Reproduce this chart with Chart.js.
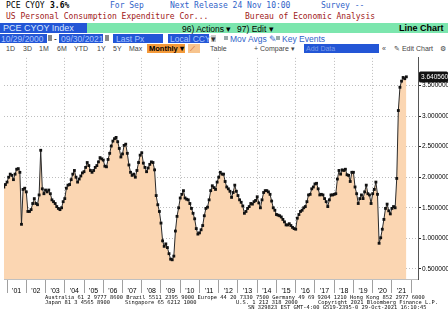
<!DOCTYPE html>
<html>
<head>
<meta charset="utf-8">
<script src="https://cdn.jsdelivr.net/npm/chart.js@4.4.0/dist/chart.umd.min.js"></script>
<style>
  html, body { margin: 0; padding: 0; background: #fff; }
  body { width: 448px; height: 322px; position: relative; overflow: hidden; }
  .t { position: absolute; white-space: pre; line-height: 1; }
  .mono { font-family: "DejaVu Sans Mono", monospace; font-size: 8px; }
  .ui { font-family: "Liberation Sans Narrow", "Liberation Sans", Arial, sans-serif; font-size: 8.5px; }
  .blue { color: #2f62c8; }
  .red { color: #a01818; }
  .box { position: absolute; }
  .foot { font-family: "DejaVu Sans Mono", monospace; font-size: 5.4px; color: #111; }
  #chart { position: absolute; left: 0; top: 53px; }
</style>
</head>
<body>
  <!-- security line -->
  <div class="t mono" style="left:6px;top:2px;color:#000">PCE CYOY</div>
  <div class="t mono" style="left:50px;top:2px;color:#000;font-weight:bold">3.6%</div>
  <div class="t mono blue" style="left:110px;top:2px">For Sep</div>
  <div class="t mono blue" style="left:170px;top:2px">Next Release 24 Nov 10:00</div>
  <div class="t mono blue" style="left:321px;top:2px">Survey --</div>
  <div class="t mono red" style="left:6px;top:13px">US Personal Consumption Expenditure Cor...</div>
  <div class="t mono red" style="left:245px;top:13px">Bureau of Economic Analysis</div>

  <!-- ticker / menu bar -->
  <div class="box" style="left:0;top:23px;width:87px;height:10px;background:#2356d6"></div>
  <div class="box" style="left:87px;top:23px;width:361px;height:10px;background:#7ce6ae"></div>
  <div class="t ui" style="left:3px;top:24px;font-size:9px;color:#d8e6ff">PCE CYOY Index</div>
  <div class="t ui" style="left:182px;top:24.5px;color:#000">96) Actions ▾</div>
  <div class="t ui" style="left:237px;top:24.5px;color:#000">97) Edit ▾</div>
  <div class="t ui" style="left:399px;top:24px;font-size:9px;color:#000;font-weight:bold">Line Chart</div>

  <!-- date range row -->
  <div class="box" style="left:0;top:34px;width:47px;height:9px;background:#2356d6"></div>
  <div class="box" style="left:59px;top:34px;width:44px;height:9px;background:#2356d6"></div>
  <div class="box" style="left:113px;top:34px;width:50px;height:9px;background:#2356d6"></div>
  <div class="box" style="left:168px;top:34px;width:41px;height:9px;background:#2356d6"></div>
  <div class="box" style="left:48px;top:35px;width:4px;height:6px;background:#888"></div>
  <div class="box" style="left:105px;top:35px;width:4px;height:6px;background:#888"></div>
  <div class="box" style="left:211px;top:35px;width:5px;height:7px;background:#ccc"></div>
  <div class="box" style="left:224px;top:36px;width:4px;height:4px;background:#9aa"></div>
  <div class="box" style="left:276px;top:36px;width:4px;height:4px;background:#9aa"></div>
  <div class="t ui" style="left:1px;top:34.5px;color:#a9c4ff">10/29/2000</div>
  <div class="t ui" style="left:54px;top:34.5px;color:#000">-</div>
  <div class="t ui" style="left:61px;top:34.5px;color:#a9c4ff">09/30/2021</div>
  <div class="t ui" style="left:116px;top:34.5px;color:#a9c4ff">Last Px</div>
  <div class="t ui" style="left:170px;top:34.5px;color:#a9c4ff">Local CCY</div>
  <div class="t ui" style="left:211px;top:34.5px;color:#333">▾</div>
  <div class="t ui" style="left:230px;top:34.5px;color:#2f62c8">Mov Avgs ✎</div>
  <div class="t ui" style="left:282px;top:34.5px;color:#2f62c8">Key Events</div>

  <!-- toolbar row -->
  <div class="box" style="left:147px;top:44px;width:38px;height:9px;background:#f39a3a"></div>
  <div class="box" style="left:188px;top:44px;width:12px;height:9px;background:#f7c48e"></div>
  <div class="box" style="left:304px;top:44px;width:75px;height:9px;background:#2356d6"></div>
  <div class="t ui" style="left:6px;top:45px;font-size:7px;color:#444">1D</div>
  <div class="t ui" style="left:23px;top:45px;font-size:7px;color:#444">3D</div>
  <div class="t ui" style="left:39px;top:45px;font-size:7px;color:#444">1M</div>
  <div class="t ui" style="left:57px;top:45px;font-size:7px;color:#444">6M</div>
  <div class="t ui" style="left:74px;top:45px;font-size:7px;color:#444">YTD</div>
  <div class="t ui" style="left:97px;top:45px;font-size:7px;color:#444">1Y</div>
  <div class="t ui" style="left:113px;top:45px;font-size:7px;color:#444">5Y</div>
  <div class="t ui" style="left:129px;top:45px;font-size:7px;color:#444">Max</div>
  <div class="t ui" style="left:149px;top:45px;font-size:7.5px;color:#000;font-weight:bold">Monthly ▾</div>
  <div class="t ui" style="left:190px;top:45px;font-size:7px;color:#c04010">⟋</div>
  <div class="t ui" style="left:210px;top:45px;font-size:7px;color:#444">Table</div>
  <div class="t ui" style="left:254px;top:45px;font-size:7px;color:#444">+ Compare ▾</div>
  <div class="t ui" style="left:306px;top:45px;font-size:7px;color:#7f9fe8">Add Data</div>
  <div class="t ui" style="left:382px;top:45px;font-size:7px;color:#444">«</div>
  <div class="t ui" style="left:394px;top:45px;font-size:7px;color:#444">✎ Edit Chart</div>
  <div class="t ui" style="left:440px;top:45px;font-size:7px;color:#444">⚙</div>

  <canvas id="chart" width="448" height="243"></canvas>

  <div class="t foot" style="left:45px;top:295px">Australia 61 2 9777 8600 Brazil 5511 2395 9000 Europe 44 20 7330 7500 Germany 49 69 9204 1210 Hong Kong 852 2977 6000</div>
  <div class="t foot" style="left:45px;top:300px">Japan 81 3 4565 8900</div>
  <div class="t foot" style="left:125px;top:300px">Singapore 65 6212 1000</div>
  <div class="t foot" style="left:236px;top:300px">U.S. 1 212 318 2000</div>
  <div class="t foot" style="left:318px;top:300px">Copyright 2021 Bloomberg Finance L.P.</div>
  <div class="t foot" style="left:248px;top:305px">SN 329823 EST GMT-4:00 G519-2395-0 29-Oct-2021 16:10:45</div>

<script>
// Core PCE, year-over-year %, monthly (month-end), Oct 2000 .. Sep 2021
const firstYear = 2000;
const firstMonth = 10;
const pceCoreYoY = [
  // 2000 (Oct-Dec)
  1.84, 1.88, 1.92,
  // 2001
  2.00, 2.05, 2.03, 1.96, 2.05, 2.13, 2.14, 2.08, 1.23, 1.80, 1.82, 1.76,
  // 2002
  1.44, 1.44, 1.47, 1.57, 1.65, 1.57, 1.55, 1.71, 2.44, 1.81, 1.73, 1.79,
  // 2003
  1.76, 1.79, 1.73, 1.63, 1.60, 1.57, 1.52, 1.49, 1.47, 1.50, 1.60, 1.65,
  // 2004
  1.82, 1.87, 1.88, 1.96, 2.05, 2.11, 2.00, 1.92, 1.97, 2.02, 2.07, 2.09,
  // 2005
  2.16, 2.24, 2.19, 2.11, 2.08, 2.11, 2.16, 2.19, 2.25, 2.32, 2.30, 2.28,
  // 2006
  2.18, 2.17, 2.29, 2.39, 2.51, 2.59, 2.63, 2.65, 2.58, 2.47, 2.33, 2.38,
  // 2007
  2.52, 2.54, 2.39, 2.20, 2.08, 2.03, 2.05, 2.00, 2.11, 2.24, 2.36, 2.40,
  // 2008
  2.23, 2.16, 2.09, 2.15, 2.21, 2.25, 2.24, 2.12, 1.70, 1.55, 1.44, 1.25,
  // 2009
  0.96, 0.87, 0.91, 0.85, 0.75, 0.66, 0.65, 0.71, 1.12, 1.36, 1.50, 1.66,
  // 2010
  1.72, 1.78, 1.66, 1.64, 1.63, 1.57, 1.49, 1.41, 1.32, 1.16, 1.07, 1.09,
  // 2011
  1.14, 1.21, 1.37, 1.49, 1.51, 1.63, 1.78, 1.86, 1.83, 1.80, 1.92, 2.00,
  // 2012
  2.08, 2.05, 2.05, 1.93, 1.84, 1.81, 1.77, 1.67, 1.75, 1.87, 1.77, 1.70,
  // 2013
  1.63, 1.59, 1.53, 1.41, 1.44, 1.49, 1.52, 1.57, 1.56, 1.60, 1.62, 1.68,
  // 2014
  1.58, 1.50, 1.63, 1.75, 1.78, 1.78, 1.76, 1.72, 1.61, 1.50, 1.46, 1.39,
  // 2015
  1.38, 1.37, 1.35, 1.31, 1.27, 1.22, 1.22, 1.24, 1.21, 1.18, 1.16, 1.15,
  // 2016
  1.33, 1.39, 1.44, 1.46, 1.50, 1.52, 1.60, 1.71, 1.72, 1.81, 1.84, 1.89,
  // 2017
  1.90, 1.81, 1.71, 1.72, 1.71, 1.65, 1.60, 1.52, 1.63, 1.71, 1.71, 1.72,
  // 2018
  1.73, 1.97, 2.11, 2.05, 2.12, 2.11, 2.13, 2.04, 2.03, 1.93, 2.08, 2.08,
  // 2019
  1.84, 1.73, 1.57, 1.65, 1.71, 1.65, 1.76, 1.87, 1.73, 1.71, 1.57, 1.73,
  // 2020
  1.80, 1.92, 1.72, 0.92, 1.01, 1.15, 1.31, 1.49, 1.56, 1.45, 1.40, 1.49,
  // 2021 (Jan-Sep)
  1.52, 1.50, 1.98, 3.09, 3.47, 3.57, 3.63, 3.61, 3.640560
];
const yearLabels = ["'01", "'02", "'03", "'04", "'05", "'06", "'07", "'08", "'09", "'10",
  "'11", "'12", "'13", "'14", "'15", "'16", "'17", "'18", "'19", "'20", "'21"];
const yTicks = [0.5, 1.0, 1.5, 2.0, 2.5, 3.0, 3.5];

// month-end observations placed on a fractional-year axis
const points = pceCoreYoY.map((v, k) => ({ x: firstYear + (firstMonth + k) / 12, y: v }));
const firstLabelYear = 2001;

const lastValueTag = {
  id: 'lastValueTag',
  afterDraw(chart) {
    const { ctx, scales: { y }, chartArea } = chart;
    const last = pceCoreYoY[pceCoreYoY.length - 1];
    const py = Math.round(y.getPixelForValue(last));
    const x0 = chartArea.right + 1;
    ctx.save();
    ctx.fillStyle = '#111';
    ctx.beginPath();
    ctx.roundRect(x0, py - 5.5, chart.width - x0, 11, 1.5);
    ctx.fill();
    ctx.fillStyle = '#fff';
    ctx.font = '6.5px "Liberation Sans", Arial, sans-serif';
    ctx.textBaseline = 'middle';
    ctx.textAlign = 'left';
    ctx.fillText(last.toFixed(6), x0 + 2, py + 0.5);
    ctx.restore();
  }
};

new Chart(document.getElementById('chart'), {
  type: 'line',
  data: {
    datasets: [{
      data: points,
      borderColor: '#2a2a2a',
      borderWidth: 1,
      backgroundColor: '#fbd6b2',
      fill: 'start',
      tension: 0,
      pointStyle: 'rect',
      pointRadius: 2,
      pointBackgroundColor: '#111',
      pointBorderColor: '#111',
      pointBorderWidth: 0
    }]
  },
  options: {
    responsive: false,
    animation: false,
    devicePixelRatio: 1,
    layout: { padding: 0 },
    plugins: { legend: { display: false }, tooltip: { enabled: false } },
    scales: {
      x: {
        type: 'linear',
        min: 2000.842,
        max: 2022.355,
        afterBuildTicks: (scale) => {
          const ticks = [];
          for (let yr = firstLabelYear; yr <= firstLabelYear + yearLabels.length; yr++) {
            ticks.push({ value: yr });
            if (yr - firstLabelYear < yearLabels.length) ticks.push({ value: yr + 0.5 });
          }
          scale.ticks = ticks;
        },
        ticks: {
          autoSkip: false,
          maxRotation: 0,
          padding: -6,
          color: '#000',
          font: { family: '"Liberation Sans", Arial, sans-serif', size: 7 },
          callback: (value) => Number.isInteger(value) ? '' : yearLabels[Math.floor(value) - firstLabelYear]
        },
        grid: {
          lineWidth: 1,
          tickLength: 14,
          color: (c) => {
            const v = c.tick ? c.tick.value : 0;
            return Number.isInteger(v) && v % 2 === 0 && v <= 2020 ? '#bdbdbd' : 'rgba(0,0,0,0)';
          },
          tickColor: (c) => (c.tick && Number.isInteger(c.tick.value)) ? '#a0a0a0' : 'rgba(0,0,0,0)'
        },
        border: { display: true, color: '#c0c0c0', dash: [1, 2] },
        afterFit: (scale) => { scale.height = 17; }
      },
      y: {
        position: 'right',
        min: 0.336,
        max: 3.95,
        afterBuildTicks: (scale) => { scale.ticks = yTicks.map(v => ({ value: v })); },
        ticks: {
          padding: 1,
          color: '#000',
          font: { family: '"Liberation Sans", Arial, sans-serif', size: 6.5 },
          callback: (value) => value.toFixed(6)
        },
        grid: { color: '#bdbdbd', tickColor: '#222', tickLength: 3, lineWidth: 1 },
        border: { display: true, color: '#555', dash: [1, 2] },
        afterFit: (scale) => { scale.width = 30; }
      }
    }
  },
  plugins: [lastValueTag]
});
</script>
</body>
</html>
